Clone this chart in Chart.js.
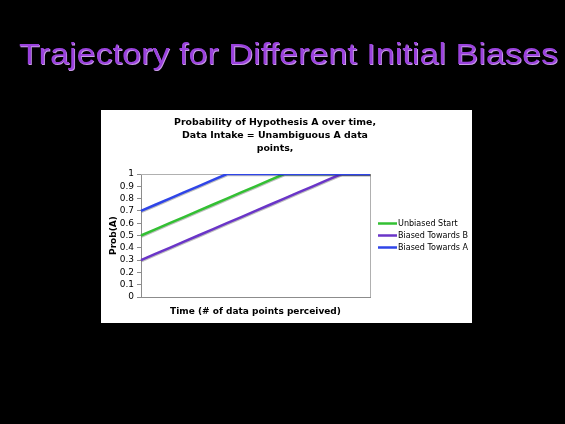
<!DOCTYPE html>
<html>
<head>
<meta charset="utf-8">
<script src="https://cdn.jsdelivr.net/npm/chart.js@4.4.1/dist/chart.umd.min.js"></script>
<style>
  html, body { margin: 0; padding: 0; background: #000; }
  #wrap { width: 565px; height: 424px; }
</style>
</head>
<body>
<div id="wrap"><canvas id="myChart" width="565" height="424"></canvas></div>
<script>
// data points perceived (x categories)
const steps = ['0','1','2','3','4','5','6','7','8','9','10','11','12','13','14','15','16'];
const seriesNames = ['Unbiased Start', 'Biased Towards B', 'Biased Towards A'];
const unbiased = [0.50,0.55,0.60,0.65,0.70,0.75,0.80,0.85,0.90,0.95,1,1,1,1,1,1,1];
const towardsB = [0.30,0.35,0.40,0.45,0.50,0.55,0.60,0.65,0.70,0.75,0.80,0.85,0.90,0.95,1,1,1];
const towardsA = [0.70,0.75,0.80,0.85,0.90,0.95,1,1,1,1,1,1,1,1,1,1,1];
const yTicks = [0,0.1,0.2,0.3,0.4,0.5,0.6,0.7,0.8,0.9,1];

const slideTitle = 'Trajectory for Different Initial Biases';
const chartTitle = ['Probability of Hypothesis A over time,', 'Data Intake = Unambiguous A data', 'points,'];
const colors = ['#33c033', '#6a35c8', '#2f45e8'];

const font = 'Verdana, "DejaVu Sans", sans-serif';

// slide background, white chart box, titles, plot border, legend
const slidePlugin = {
  id: 'slide',
  beforeDraw(chart) {
    const c = chart.ctx;
    c.save();
    c.fillStyle = '#000';
    c.fillRect(0, 0, chart.width, chart.height);
    c.fillStyle = '#fff';
    c.fillRect(101, 110, 371, 213);

    // big slide title
    c.font = '29px "Liberation Sans", Arial, sans-serif';
    c.textBaseline = 'alphabetic';
    c.textAlign = 'left';
    const w = c.measureText(slideTitle).width;
    c.translate(19, 64);
    c.scale(539 / w, 1);
    c.fillStyle = '#c99be8';
    c.fillText(slideTitle, 0.7, 0.7);
    c.fillStyle = '#9a42dc';
    c.fillText(slideTitle, 0, 0);
    c.restore();

    // chart title
    c.save();
    c.fillStyle = '#000';
    c.font = 'bold 9.4px ' + font;
    c.textAlign = 'center';
    c.textBaseline = 'middle';
    chartTitle.forEach((t, i) => c.fillText(t, 275, 123 + i * 12.6));
    c.restore();
  },
  afterDraw(chart) {
    const c = chart.ctx;
    c.save();
    // legend
    c.font = '8.5px ' + font;
    c.textBaseline = 'middle';
    c.textAlign = 'left';
    const k = 70 / c.measureText(seriesNames[1]).width;
    seriesNames.forEach((n, i) => {
      const y = 223.5 + i * 12;
      c.strokeStyle = colors[i];
      c.lineWidth = 2.5;
      c.beginPath();
      c.moveTo(378, y);
      c.lineTo(397, y);
      c.stroke();
      c.save();
      c.translate(398, y + 0.5);
      c.scale(k, 1);
      c.fillStyle = '#000';
      c.fillText(n, 0, 0);
      c.restore();
    });
    c.restore();
  },
  beforeDatasetsDraw(chart) {
    const c = chart.ctx;
    const a = chart.chartArea;
    c.save();
    c.strokeStyle = '#b0b0b0';
    c.lineWidth = 1;
    c.beginPath();
    c.moveTo(a.left, a.top + 0.5);
    c.lineTo(a.right + 0.5, a.top + 0.5);
    c.lineTo(a.right + 0.5, a.bottom);
    c.stroke();
    c.restore();
  },
  beforeDatasetDraw(chart) {
    const c = chart.ctx;
    c.save();
    c.shadowColor = 'rgba(0,0,0,0.25)';
    c.shadowOffsetX = 0.5;
    c.shadowOffsetY = 1;
    c.shadowBlur = 0;
  },
  afterDatasetDraw(chart) {
    chart.ctx.restore();
  }
};

const ctx = document.getElementById('myChart');
let myChart = new Chart(ctx, {
  type: 'line',
  data: {
    labels: steps,
    datasets: [
      { label: seriesNames[0], data: unbiased, borderColor: colors[0], order: 2 },
      { label: seriesNames[1], data: towardsB, borderColor: colors[1], order: 1 },
      { label: seriesNames[2], data: towardsA, borderColor: colors[2], order: 0 },
    ]
  },
  options: {
    responsive: false,
    animation: false,
    devicePixelRatio: 1,
    layout: { padding: { left: 101, right: 195, top: 174, bottom: 101 } },
    elements: {
      point: { radius: 0, hoverRadius: 0 },
      line: { borderWidth: 2.5, tension: 0 }
    },
    scales: {
      x: {
        offset: false,
        ticks: { display: false },
        grid: { display: false },
        border: { color: '#8c8c8c', width: 1 },
        title: {
          display: true,
          text: 'Time (# of data points perceived)',
          color: '#000',
          font: { family: font, size: 9, weight: 'bold' },
          padding: { top: 0, bottom: 6 }
        },
        afterFit(scale) { scale.height = 26; }
      },
      y: {
        min: 0,
        max: 1,
        afterBuildTicks(scale) { scale.ticks = yTicks.map(v => ({ value: v })); },
        ticks: {
          color: '#000',
          font: { family: font, size: 9 },
          padding: 3,
          autoSkip: false,
          callback: (v) => String(v)
        },
        grid: { drawOnChartArea: false, drawTicks: true, tickLength: 4, color: '#8c8c8c' },
        border: { color: '#8c8c8c', width: 1 },
        title: {
          display: true,
          text: 'Prob(A)',
          color: '#000',
          font: { family: font, size: 9, weight: 'bold' },
          padding: { top: 7, bottom: 0 }
        },
        afterFit(scale) { scale.width = 40; }
      }
    },
    plugins: {
      legend: { display: false },
      tooltip: { enabled: false },
      title: { display: false }
    }
  },
  plugins: [slidePlugin]
});
</script>
</body>
</html>
